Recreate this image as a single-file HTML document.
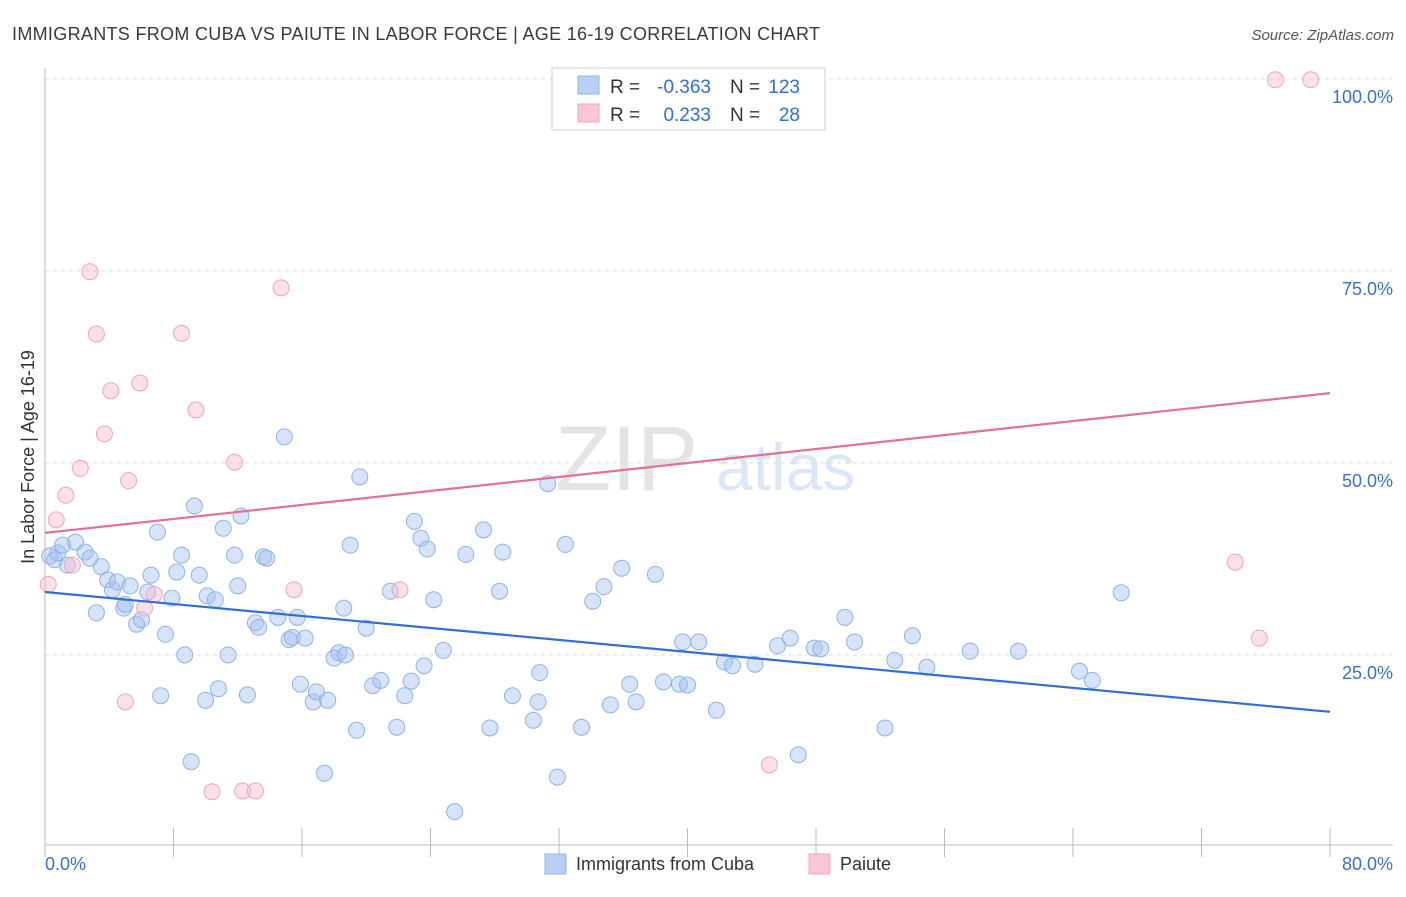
<!DOCTYPE html>
<html><head><meta charset="utf-8">
<style>
body{margin:0;background:#fff;font-family:"Liberation Sans",sans-serif;}
svg text{font-family:"Liberation Sans",sans-serif;}
</style></head>
<body>
<svg id="chart" width="1406" height="892" xmlns="http://www.w3.org/2000/svg">
<text x="12" y="40" font-size="18" fill="#3a3a3a" textLength="808">IMMIGRANTS FROM CUBA VS PAIUTE IN LABOR FORCE | AGE 16-19 CORRELATION CHART</text>
<text x="1394" y="40" font-size="15" fill="#555" text-anchor="end" font-style="italic">Source: ZipAtlas.com</text>
<text x="555" y="490" font-size="92" fill="#e4e4e4" font-family="Liberation Serif">ZIP</text>
<text x="716" y="490" font-size="66" fill="#dbe6f6">atlas</text>
<g id="grid"></g>
<line x1="45" y1="68" x2="45" y2="845" stroke="#bbb"/>
<line x1="45" y1="845" x2="1393" y2="845" stroke="#bbb"/>
<text transform="translate(34,457) rotate(-90)" font-size="18" fill="#333" text-anchor="middle">In Labor Force | Age 16-19</text>
<text x="45" y="870" font-size="18" fill="#3a6fd0">0.0%</text>
<text x="1393" y="870" font-size="18" fill="#3a6fd0" text-anchor="end">80.0%</text>
<g id="points"></g>
<g id="lines"></g>
<g>
<rect x="552" y="68" width="273" height="62" fill="#fff" stroke="#ccc"/>
<rect x="578" y="76" width="21" height="18" fill="#b8d0f4" stroke="#8fb3e8"/>
<rect x="578" y="104" width="21" height="18" fill="#f8c6d6" stroke="#f0a4bd"/>
<text x="610" y="93" font-size="19" fill="#333">R =</text>
<text x="711" y="93" font-size="19" fill="#2f6fd6" text-anchor="end">-0.363</text>
<text x="730" y="93" font-size="19" fill="#333">N =</text>
<text x="800" y="93" font-size="19" fill="#2f6fd6" text-anchor="end">123</text>
<text x="610" y="121" font-size="19" fill="#333">R =</text>
<text x="711" y="121" font-size="19" fill="#2f6fd6" text-anchor="end">0.233</text>
<text x="730" y="121" font-size="19" fill="#333">N =</text>
<text x="800" y="121" font-size="19" fill="#2f6fd6" text-anchor="end">28</text>
</g>
<g>
<rect x="545" y="854" width="21" height="20" fill="#b8d0f4" stroke="#8fb3e8"/>
<text x="576" y="870" font-size="18" fill="#333">Immigrants from Cuba</text>
<rect x="809" y="854" width="21" height="20" fill="#f8c6d6" stroke="#f0a4bd"/>
<text x="840" y="870" font-size="18" fill="#333">Paiute</text>
</g>
</svg>
<script>
const yTicks=[25,50,75,100];
const yTickLabels=["25.0%","50.0%","75.0%","100.0%"];
const xTicks=[0,8,16,24,32,40,48,56,64,72,80];
const cubaX=[0.3,0.6,0.8,1.1,1.4,1.9,2.5,2.8,3.2,3.5,3.9,4.2,4.5,4.9,5.0,5.3,5.7,6.0,6.4,6.6,7.0,7.2,7.5,7.9,8.2,8.5,8.7,9.1,9.3,9.6,10.0,10.1,10.6,10.8,11.1,11.4,11.8,12.0,12.2,12.6,13.1,13.3,13.6,13.8,14.5,14.9,15.2,15.4,15.7,15.9,16.2,16.7,16.9,17.4,17.6,18.0,18.3,18.6,18.7,19.0,19.4,19.6,20.0,20.4,20.9,21.5,21.9,22.4,22.8,23.0,23.4,23.6,23.8,24.2,24.8,25.5,26.2,27.3,27.7,28.3,28.5,29.1,30.4,30.7,30.8,31.3,31.9,32.4,33.4,34.1,34.8,35.2,35.9,36.4,36.8,38.0,38.5,39.5,39.7,40.0,40.7,41.8,42.3,42.8,44.2,45.6,46.4,46.9,47.9,48.3,50.4,49.8,52.3,52.9,54.0,54.9,57.6,60.6,64.4,65.2,67.0];
const cubaY=[37.9,37.4,38.3,39.3,36.7,39.7,38.4,37.6,30.5,36.5,34.8,33.5,34.5,31.1,31.6,34.0,29.0,29.6,33.2,35.4,41.0,19.7,27.7,32.4,35.8,38.0,25.0,11.1,44.4,35.4,19.1,32.7,32.2,20.6,41.5,25.0,38.0,34.0,43.1,19.8,29.2,28.6,37.8,37.6,29.9,53.4,27.0,27.3,29.9,21.2,27.2,18.9,20.2,9.6,19.1,24.6,25.3,31.1,25.0,39.3,15.2,48.2,28.5,21.0,21.7,33.3,15.6,19.7,21.6,42.4,40.2,23.6,38.8,32.2,25.6,4.6,38.1,41.3,15.5,33.3,38.4,19.7,16.5,18.9,22.7,47.3,9.1,39.4,15.6,32.0,33.9,18.5,36.3,21.2,18.9,35.5,21.5,21.2,26.7,21.1,26.7,17.8,24.1,23.6,23.8,26.2,27.2,12.0,25.9,25.8,26.7,29.9,15.5,24.3,27.5,23.4,25.5,25.5,22.9,21.7,33.1];
const paiuteX=[0.2,0.7,1.3,1.7,2.2,2.8,3.2,3.7,4.1,5.0,5.2,5.9,6.2,6.8,8.5,9.4,10.4,11.8,12.3,13.1,14.7,15.5,22.1,45.1,74.1,75.6,76.6,78.8];
const paiuteY=[34.2,42.6,45.8,36.7,49.3,74.9,66.8,53.8,59.4,18.9,47.7,60.4,31.1,32.9,66.9,56.9,7.2,50.1,7.3,7.3,72.8,33.5,33.5,10.7,37.1,27.2,99.9,99.9];
const cubaTrend=[33.2,17.6];
const paiuteTrend=[40.9,59.1];
const NS="http://www.w3.org/2000/svg";
function sx(v){return 45+v/80*1285;}
function sy(v){return 847-v/100*768;}
function mk(tag,attrs,parent){const e=document.createElementNS(NS,tag);for(const k in attrs)e.setAttribute(k,attrs[k]);parent.appendChild(e);return e;}
const grid=document.getElementById('grid');
yTicks.forEach((t,i)=>{
 const l=mk('line',{x1:45,x2:1393,y1:sy(t),y2:sy(t),stroke:'#ddd','stroke-dasharray':'4,4'},grid);
 
 
 const tx=mk('text',{x:1393,y:sy(t)+24,'font-size':18,fill:'#3a6fd0','text-anchor':'end'},grid);
 tx.textContent=yTickLabels[i];
 
 
});
xTicks.forEach(t=>{
 const l=mk('line',{x1:sx(t),x2:sx(t),y1:828,y2:857,stroke:'#bbb'},grid);
 
 
});
const pts=document.getElementById('points');
cubaX.forEach((x,i)=>{
 const c=mk('circle',{cx:sx(x),cy:sy(cubaY[i]),r:8,fill:'rgba(164,194,240,0.45)',stroke:'#8fb3e8','stroke-width':1},pts);
 
 
});
paiuteX.forEach((x,i)=>{
 const c=mk('circle',{cx:sx(x),cy:sy(paiuteY[i]),r:8,fill:'rgba(246,186,206,0.45)',stroke:'#f0a4bd','stroke-width':1},pts);
 
 
});
const lines=document.getElementById('lines');
const bl=mk('line',{x1:sx(0),y1:sy(cubaTrend[0]),x2:sx(80),y2:sy(cubaTrend[1]),stroke:'#2f6fd6','stroke-width':2.2},lines);


const pl=mk('line',{x1:sx(0),y1:sy(paiuteTrend[0]),x2:sx(80),y2:sy(paiuteTrend[1]),stroke:'#e4709a','stroke-width':2.2},lines);


</script>
</body></html>
